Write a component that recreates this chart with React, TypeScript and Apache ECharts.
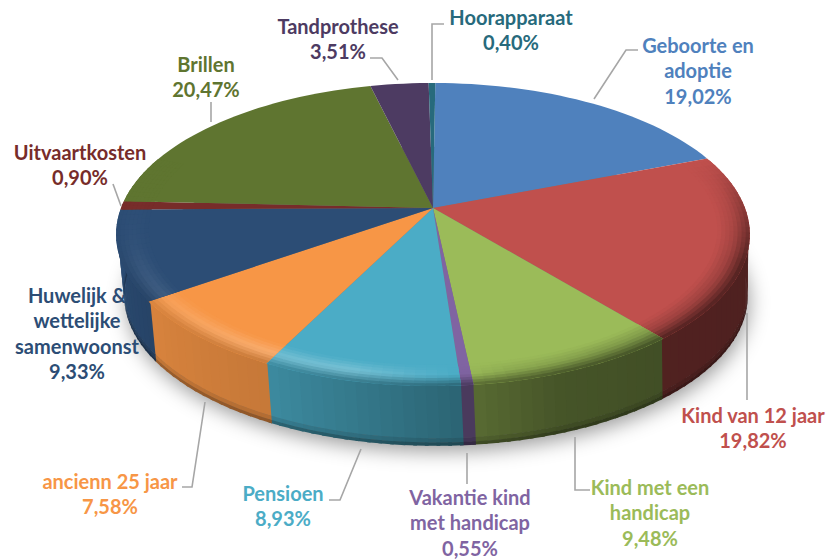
import React, { useEffect, useRef } from "react";
import * as echarts from "echarts";

const categories = [
  "Geboorte en adoptie", "Kind van 12 jaar", "Kind met een handicap", "Vakantie kind met handicap",
  "Pensioen", "ancienn 25 jaar", "Huwelijk & wettelijke samenwoonst", "Uitvaartkosten",
  "Brillen", "Tandprothese", "Hoorapparaat",
];
const values = [19.02, 19.82, 9.48, 0.55, 8.93, 7.58, 9.33, 0.9, 20.47, 3.51, 0.4];
const percentLabels = ["19,02%", "19,82%", "9,48%", "0,55%", "8,93%", "7,58%", "9,33%", "0,90%", "20,47%", "3,51%", "0,40%"];
const colors = ["#4F81BD", "#C0504D", "#9BBB59", "#8064A2", "#4BACC6", "#F79646", "#2C4D75", "#772C2A", "#5F7530", "#4D3B62", "#276A7C"];
const labelLines = [
  ["Geboorte en", "adoptie"], ["Kind van 12 jaar"], ["Kind met een", "handicap"], ["Vakantie kind", "met handicap"],
  ["Pensioen"], ["ancienn 25 jaar"], ["Huwelijk &", "wettelijke", "samenwoonst"], ["Uitvaartkosten"],
  ["Brillen"], ["Tandprothese"], ["Hoorapparaat"],
];

// centre x and first line y of each label, in the order of the categories
const labelAt = [[698, 45], [753, 415], [650, 487], [470, 497], [283, 493], [110, 481], [77, 295], [80, 152], [206, 64], [338, 26], [511, 17]];
const leaders = [
  [[594, 99], [626, 50], [638, 50]],
  [[747, 313], [747, 400]],
  [[575, 437], [575, 490], [590, 490]],
  [[467, 453], [467, 484]],
  [[361, 449], [340, 500], [329, 500]],
  [[205, 402], [192, 487], [182, 487]],
  [[121, 206], [113, 184]],
  [[211, 122], [211, 102]],
  [[398, 80], [382, 58], [370, 58]],
  [[432, 80], [432, 24], [444, 24]],
];

const K = 0.175;
const START = 0.5;
const LINE_GAP = 25.4;
const total = values.reduce((a, b) => a + b, 0);

const rad = (d: number) => (d * Math.PI) / 180;
const warp = (theta: number) => theta - 1.8 * Math.exp(-(((theta - 207) / 32) ** 2));
function topPoint(theta: number, t: number) {
  const a = rad(warp(theta));
  const u = t * Math.sin(a);
  const v = t * Math.cos(a);
  const w = 1 + K * v;
  return [433 + (312 * u) / w, 208 - (146.9 * v) / w];
}
function bottomPoint(theta: number) {
  const a = rad(warp(theta));
  const u = Math.sin(a);
  const v = Math.cos(a);
  const w = 1 + K * v;
  return [436 + (307 * u) / w, 269.5 - (145.5 * v) / w];
}
function hex(c: string) {
  return [1, 3, 5].map((i) => parseInt(c.slice(i, i + 2), 16));
}
function mix(a: number[], b: number[], s: number) {
  return a.map((x, i) => x + (b[i] - x) * s);
}
const css = (c: number[]) => `rgb(${c.map((x) => Math.round(x)).join(",")})`;
function piecewise(x: number, table: number[][]) {
  if (x <= table[0][0]) return table[0][1];
  for (let i = 1; i < table.length; i++) {
    if (x <= table[i][0]) {
      const [a, fa] = table[i - 1];
      const [b, fb] = table[i];
      return fa + ((fb - fa) * (x - a)) / (b - a);
    }
  }
  return table[table.length - 1][1];
}
const wallShade = [[90, 0.4], [140, 0.42], [160, 0.45], [176, 0.58], [208, 0.8], [235, 0.87], [262, 0.98], [280, 1]];
const highlight = [[150, -0.18], [168, -0.1], [182, 0.06], [195, 0.25], [210, 0.22], [235, 0.1], [255, 0.03], [280, 0]];
const wallColor = (base: number[], th: number) => mix([0, 0, 0], base, piecewise(th, wallShade));

function bounds(i: number) {
  let acc = 0;
  for (let k = 0; k < i; k++) acc += values[k];
  return [START + (acc / total) * 360, START + ((acc + values[i]) / total) * 360];
}

const STEP = 2;
function segments(a: number, b: number, lo: number, hi: number) {
  const from = Math.max(a, lo);
  const to = Math.min(b, hi);
  const out: number[][] = [];
  if (to <= from) return out;
  const n = Math.max(1, Math.ceil((to - from) / STEP));
  for (let i = 0; i < n; i++) out.push([from + ((to - from) * i) / n, from + ((to - from) * (i + 1)) / n]);
  return out;
}
const lerpPt = (p: number[], q: number[], s: number) => [p[0] + (q[0] - p[0]) * s, p[1] + (q[1] - p[1]) * s];

function wallItem(params: any) {
  const i = params.dataIndex;
  const [a, b] = bounds(i);
  const base = hex(colors[i]);
  const children: any[] = [];
  const strips = [[0, 0.88, 0], [0.875, 0.95, 0.1], [0.945, 1, 0.28]];
  for (const [s, e0] of segments(a, b, 85, 285)) {
    const e = e0 + 0.6;
    const c = wallColor(base, (s + e0) / 2);
    const ts = topPoint(s, 0.995);
    const te = topPoint(e, 0.995);
    const bs = bottomPoint(s);
    const be = bottomPoint(e);
    for (const [p, q, dark] of strips) {
      children.push({
        type: "polygon",
        shape: { points: [lerpPt(ts, bs, p), lerpPt(te, be, p), lerpPt(te, be, q), lerpPt(ts, bs, q)] },
        style: { fill: css(mix(c, [0, 0, 0], dark)) },
      });
    }
  }
  return { type: "group", children };
}

function topItem(params: any) {
  const i = params.dataIndex;
  const [a, b] = bounds(i);
  const base = hex(colors[i]);
  const pts: number[][] = [topPoint(0, 0)];
  const span = Math.max(1, Math.ceil((b - a) / 2));
  for (let k = 0; k <= span; k++) pts.push(topPoint(a + ((b - a) * k) / span, 1));
  const children: any[] = [{ type: "polygon", shape: { points: pts }, style: { fill: colors[i] } }];
  const BANDS = 8;
  for (const [s, e0] of segments(a, b, 70, 290)) {
    const e = Math.min(e0 + 0.6, b);
    const mid = (s + e0) / 2;
    const fade = Math.min(1, Math.max(0, (90 - Math.abs(mid - 180) + 20) / 40));
    const wall = mix(base, wallColor(base, mid), fade);
    const h = piecewise(mid, highlight) * fade;
    const hi = h >= 0 ? mix(base, [255, 255, 255], h) : mix(base, [0, 0, 0], -h);
    for (let j = 0; j < BANDS; j++) {
      const t0 = 0.9 + (0.1 * j) / BANDS;
      const t1 = 0.9 + (0.1 * (j + 1)) / BANDS;
      const q = (j + 0.5) / BANDS;
      const c = q < 0.5 ? mix(base, hi, q * 2) : mix(hi, wall, (q - 0.5) * 2);
      const t1x = j === BANDS - 1 ? 1 : t1 + 0.003;
      children.push({
        type: "polygon",
        shape: { points: [topPoint(s, t0), topPoint(e, t0), topPoint(e, t1x), topPoint(s, t1x)] },
        style: { fill: css(c) },
      });
    }
  }
  return { type: "group", children };
}

const FONT = "Lato";

export default function App() {
  const ref = useRef<HTMLDivElement>(null);
  useEffect(() => {
    document.body.style.margin = "0";
    const chart = echarts.init(ref.current!, undefined, { renderer: "svg" });
    const labels = categories.flatMap((_, i) =>
      [...labelLines[i], percentLabels[i]].map((line, k) => ({
        type: "text",
        z: 20,
        x: labelAt[i][0],
        y: labelAt[i][1] + k * LINE_GAP,
        style: {
          text: line,
          fill: colors[i],
          font: `bold 20px ${FONT}`,
          lineHeight: 16,
          align: "center",
          verticalAlign: "middle",
        },
      }))
    );
    const lines = leaders.map((points) => ({
      type: "polyline",
      z: 15,
      shape: { points },
      style: { stroke: "#a6a6a6", lineWidth: 1.6, fill: "none" },
    }));
    const data = values.map((v, i) => ({ name: categories[i], value: [v] }));
    chart.setOption({
      animation: false,
      backgroundColor: "#ffffff",
      graphic: [
        {
          type: "ellipse",
          z: 0,
          shape: { cx: 436, cy: 296, rx: 311, ry: 149 },
          style: { fill: "#777777", shadowBlur: 20, shadowColor: "rgba(0,0,0,0.4)", shadowOffsetX: 2, shadowOffsetY: 6 },
        },
        ...lines,
        ...labels,
      ],
      series: [
        { type: "custom", coordinateSystem: "none", z: 3, silent: true, data, renderItem: wallItem },
        { type: "custom", coordinateSystem: "none", z: 4, silent: true, data, renderItem: topItem },
      ],
    });
    return () => chart.dispose();
  }, []);
  return <div ref={ref} style={{ width: 828, height: 559 }} />;
}
